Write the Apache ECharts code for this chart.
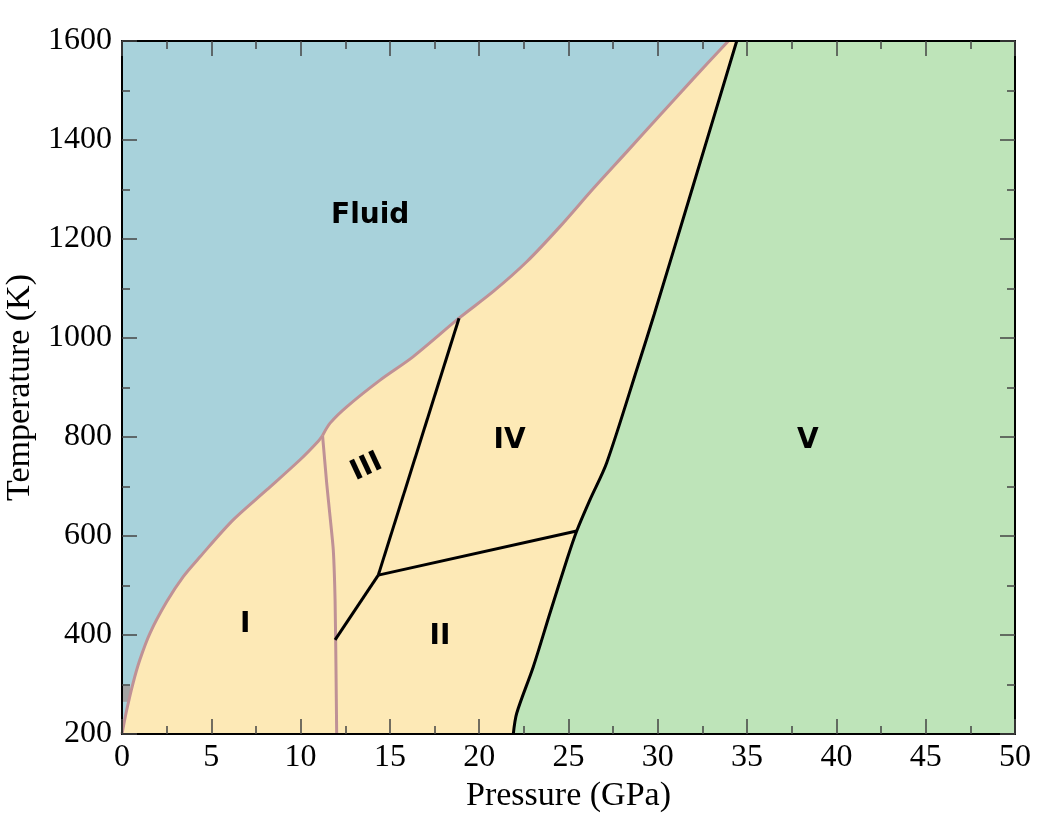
<!DOCTYPE html>
<html>
<head>
<meta charset="utf-8">
<title>Phase diagram</title>
<style>
  html, body { margin: 0; padding: 0; background: #fff; }
  #chart { width: 1056px; height: 816px; }
</style>
</head>
<body>
<div id="chart"></div>
<script src="https://cdn.jsdelivr.net/npm/echarts@6/dist/echarts.min.js"></script>
<script>
// boundaries: [pressure GPa, temperature K]
var meltI = [[0, 200], [0.26, 248], [0.62, 303], [1.0, 350], [1.57, 404], [2.5, 467],
  [3.43, 518], [4.37, 558], [6.21, 632], [8.1, 693], [9.97, 754], [11.0, 792], [11.23, 803]];
var meltHigh = [[11.23, 803], [11.65, 828], [12.58, 861], [14.45, 915], [16.29, 962],
  [18.87, 1040], [20.79, 1094], [22.66, 1154], [24.52, 1225], [26.39, 1302],
  [28.26, 1376], [30.12, 1450], [31.99, 1524], [33.95, 1600]];
var lineIIII = [[11.23, 803], [11.46, 707], [11.65, 639], [11.83, 572], [11.93, 471],
  [11.98, 336], [12.02, 200]];
var lineIIIII = [[11.93, 390], [14.35, 521]];
var lineIIIIV = [[14.35, 521], [18.87, 1040]];
var lineIIIV = [[14.35, 521], [25.46, 610]];
var lineV = [[21.91, 200], [22.1, 242], [23.03, 336], [23.96, 444], [24.9, 551],
  [25.46, 610], [26.2, 673], [27.14, 748], [28.9, 945], [29.8, 1048], [31.99, 1309],
  [34.42, 1600]];
var greyPatch = [[0, 265], [0.45, 265], [0.45, 298], [0, 298]];

var phaseNames = ['Fluid', 'III', 'IV', 'V', 'I', 'II'];
var phaseAt = [[13.9, 1248], [13.7, 739], [21.7, 792], [38.4, 792], [6.9, 420], [17.8, 396]];

var xTicks = { min: 0, max: 50, interval: 5 };
var yTicks = { min: 200, max: 1600, interval: 200 };

var solid = meltI.concat(meltHigh).concat(lineV.slice().reverse());
var high = lineV.concat([[50, 1600], [50, 200]]);
var fluid = [[0, 200], [0, 1600], [50, 1600], [50, 200]];

var regions = [
  { pts: fluid, color: '#a8d2db' },
  { pts: solid, color: '#fde9b6' },
  { pts: high, color: '#bee4b9' },
  { pts: greyPatch, color: '#a3a3a3' }
];

var serif = 'Liberation Serif';
var tickStyle = { color: '#444', width: 1.5 };

function plain(v) { return String(v); }

function makeX(pos, labels) {
  return {
    type: 'value', position: pos, min: xTicks.min, max: xTicks.max, interval: xTicks.interval,
    z: 10,
    name: labels ? 'Pressure (GPa)' : '', nameLocation: 'middle', nameGap: 33,
    nameTextStyle: { fontFamily: serif, fontSize: 34, color: '#000' },
    axisLine: { show: true, onZero: false, lineStyle: { color: '#000', width: 2 } },
    axisTick: { show: true, inside: true, length: 15, lineStyle: tickStyle },
    minorTick: { show: true, splitNumber: 2, length: 8, lineStyle: tickStyle },
    axisLabel: { show: labels, formatter: plain, fontFamily: serif, fontSize: 32, color: '#000', margin: 8 },
    splitLine: { show: false }
  };
}
function makeY(pos, labels) {
  return {
    type: 'value', position: pos, min: yTicks.min, max: yTicks.max, interval: yTicks.interval,
    z: 10,
    name: labels ? 'Temperature (K)' : '', nameLocation: 'middle', nameGap: 80,
    nameTextStyle: { fontFamily: serif, fontSize: 34, color: '#000' },
    axisLine: { show: true, onZero: false, lineStyle: { color: '#000', width: 2 } },
    axisTick: { show: true, inside: true, length: 15, lineStyle: tickStyle },
    minorTick: { show: true, splitNumber: 2, length: 8, lineStyle: tickStyle },
    axisLabel: { show: labels, formatter: plain, fontFamily: serif, fontSize: 32, color: '#000', margin: 10 },
    splitLine: { show: false }
  };
}

function boundary(data, color, smooth) {
  return {
    type: 'line', data: data, showSymbol: false, symbol: 'none', z: 5,
    smooth: smooth || false,
    lineStyle: { color: color, width: 3 }, silent: true
  };
}

var chart = echarts.init(document.getElementById('chart'));
chart.setOption({
  animation: false,
  backgroundColor: '#fff',
  grid: { left: 122, right: 41, top: 41, bottom: 82, containLabel: false, outerBoundsMode: 'none' },
  xAxis: [makeX('bottom', true), makeX('top', false)],
  yAxis: [makeY('left', true), makeY('right', false)],
  series: [
    {
      type: 'custom', clip: true, z: 1, silent: true,
      data: regions.map(function (r, i) { return [i]; }),
      renderItem: function (params, api) {
        var r = regions[params.dataIndex];
        return {
          type: 'polygon',
          shape: { points: r.pts.map(function (p) { return api.coord(p); }) },
          style: { fill: r.color }
        };
      }
    },
    boundary(meltI, '#bf9196', 0.3),
    boundary(meltHigh, '#bf9196', 0.3),
    boundary(lineIIII, '#bf9196', 0.2),
    boundary(lineIIIII, '#000'),
    boundary(lineIIIIV, '#000'),
    boundary(lineIIIV, '#000'),
    boundary(lineV, '#000', 0.3),
    {
      type: 'scatter', symbolSize: 0, z: 6, silent: true,
      itemStyle: { opacity: 1 },
      data: phaseAt.map(function (p, i) {
        return {
          name: phaseNames[i], value: p,
          label: { rotate: phaseNames[i] === 'III' ? 25 : 0 }
        };
      }),
      label: {
        show: true, position: 'inside', formatter: '{b}', opacity: 1,
        fontFamily: 'DejaVu Sans', fontWeight: 'bold', fontSize: 28, color: '#000',
        textBorderWidth: 0
      }
    }
  ]
});
</script>
</body>
</html>
